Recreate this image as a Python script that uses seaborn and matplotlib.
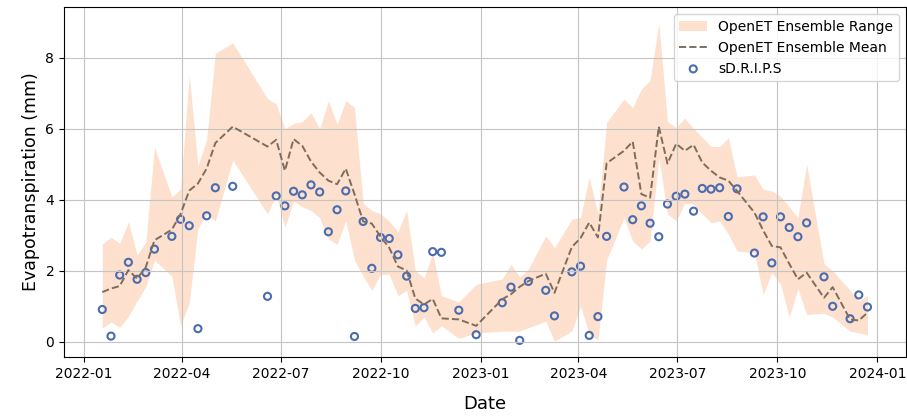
import matplotlib
matplotlib.use("Agg")
import matplotlib.pyplot as plt
import matplotlib.dates as mdates
import seaborn as sns
import pandas as pd

dates = [
    "2022-01-18", "2022-01-26", "2022-02-03", "2022-02-11", "2022-02-19", "2022-02-27", "2022-03-07",
    "2022-03-23", "2022-03-31", "2022-04-08", "2022-04-16", "2022-04-24", "2022-05-02", "2022-05-18",
    "2022-06-19", "2022-06-27", "2022-07-05", "2022-07-13", "2022-07-21", "2022-07-29", "2022-08-06",
    "2022-08-14", "2022-08-22", "2022-08-30", "2022-09-07", "2022-09-15", "2022-09-23", "2022-10-01",
    "2022-10-09", "2022-10-17", "2022-10-25", "2022-11-02", "2022-11-10", "2022-11-18", "2022-11-26",
    "2022-12-12", "2022-12-28", "2023-01-21", "2023-01-29", "2023-02-06", "2023-02-14", "2023-03-02",
    "2023-03-10", "2023-03-26", "2023-04-03", "2023-04-11", "2023-04-19", "2023-04-27", "2023-05-13",
    "2023-05-21", "2023-05-29", "2023-06-06", "2023-06-14", "2023-06-22", "2023-06-30", "2023-07-08",
    "2023-07-16", "2023-07-24", "2023-08-01", "2023-08-09", "2023-08-17", "2023-08-25", "2023-09-10",
    "2023-09-18", "2023-09-26", "2023-10-04", "2023-10-12", "2023-10-20", "2023-10-28", "2023-11-13",
    "2023-11-21", "2023-12-07", "2023-12-15", "2023-12-23",
]

sdrips = [
    0.91, 0.16, 1.88, 2.24, 1.76, 1.95, 2.61,
    2.97, 3.45, 3.27, 0.37, 3.55, 4.34, 4.38,
    1.28, 4.11, 3.83, 4.24, 4.14, 4.42, 4.22,
    3.10, 3.72, 4.25, 0.15, 3.39, 2.07, 2.94,
    2.91, 2.45, 1.85, 0.94, 0.96, 2.54, 2.52,
    0.89, 0.20, 1.10, 1.54, 0.04, 1.70, 1.45,
    0.73, 1.97, 2.13, 0.18, 0.71, 2.97, 4.36,
    3.44, 3.83, 3.34, 2.96, 3.88, 4.10, 4.16,
    3.68, 4.32, 4.30, 4.34, 3.53, 4.31, 2.50,
    3.52, 2.22, 3.52, 3.22, 2.96, 3.35, 1.83,
    1.00, 0.65, 1.32, 0.98,
]

ens_mean = [
    1.40, 1.50, 1.57, 2.02, 1.78, 2.10, 2.86,
    3.16, 3.60, 4.26, 4.46, 4.88, 5.60, 6.06,
    5.50, 5.69, 4.82, 5.71, 5.52, 5.08, 4.77,
    4.54, 4.44, 4.88, 4.16, 3.39, 3.33, 2.96,
    2.65, 2.12, 2.01, 1.22, 1.05, 1.21, 0.66,
    0.63, 0.45, 1.20, 1.34, 1.55, 1.71, 1.92,
    1.38, 2.67, 2.92, 3.36, 2.94, 5.03, 5.38,
    5.64, 4.16, 4.06, 6.06, 5.02, 5.58, 5.38,
    5.55, 5.05, 4.82, 4.63, 4.54, 4.25, 3.64,
    3.14, 2.70, 2.66, 2.20, 1.76, 1.95, 1.24,
    1.54, 0.63, 0.60, 0.82,
]

ens_upper = [
    2.75, 2.95, 2.77, 3.38, 2.45, 2.80, 5.48,
    4.08, 4.30, 7.50, 4.95, 5.70, 8.13, 8.42,
    6.85, 6.70, 6.00, 6.15, 6.20, 6.45, 6.00,
    6.79, 6.13, 6.79, 6.60, 3.90, 3.70, 3.60,
    3.40, 3.10, 3.70, 2.00, 1.80, 2.50, 1.30,
    1.12, 1.62, 1.77, 2.18, 1.83, 2.05, 2.98,
    2.65, 3.45, 3.50, 4.63, 3.60, 6.18, 6.84,
    6.60, 7.12, 7.36, 8.98, 6.20, 6.04, 6.30,
    6.00, 5.76, 5.50, 5.50, 5.75, 4.65, 4.70,
    4.30, 4.25, 4.10, 3.80, 3.50, 5.00, 2.20,
    2.00, 1.45, 1.15, 1.30,
]

ens_lower = [
    0.38, 0.56, 0.41, 0.72, 1.15, 1.55, 2.30,
    1.85, 0.45, 1.10, 3.20, 3.60, 3.40, 5.12,
    3.60, 4.15, 3.22, 3.97, 3.80, 3.70, 3.50,
    2.90, 2.75, 3.41, 2.30, 1.85, 1.45, 1.90,
    1.90, 1.30, 1.45, 0.44, 0.70, 0.25, 0.45,
    0.10, 0.25, 0.30, 0.30, 0.30, 0.40, 0.58,
    0.02, 0.30, 1.00, 0.22, 0.05, 2.30, 3.50,
    2.84, 2.61, 2.84, 5.19, 3.60, 3.41, 3.90,
    3.88, 3.60, 3.36, 3.40, 3.03, 2.56, 2.50,
    1.34, 1.95, 1.62, 0.70, 1.50, 0.77, 0.80,
    0.70, 0.30, 0.25, 0.20,
]

df = pd.DataFrame({
    "date": pd.to_datetime(dates),
    "sdrips": sdrips,
    "mean": ens_mean,
    "upper": ens_upper,
    "lower": ens_lower,
})

fig = plt.figure(figsize=(9.07, 4.19), dpi=100)
ax = fig.add_axes([0.0706, 0.148, 0.928, 0.835])

ax.fill_between(df["date"], df["lower"], df["upper"], color="#fde0cd",
                linewidth=0, label="OpenET Ensemble Range")
sns.lineplot(data=df, x="date", y="mean", ax=ax, color="#7f6d5c",
             linestyle="--", linewidth=1.4, label="OpenET Ensemble Mean")
sns.scatterplot(data=df, x="date", y="sdrips", ax=ax, marker="o", s=26,
                facecolor="none", edgecolor="#4a6cb0", linewidth=1.5,
                label="sD.R.I.P.S")

ax.grid(True, color="#c4c4c4", linewidth=0.8)
ax.xaxis.set_major_locator(mdates.MonthLocator(bymonth=[1, 4, 7, 10]))
ax.xaxis.set_major_formatter(mdates.DateFormatter("%Y-%m"))
ax.set_yticks([0, 2, 4, 6, 8])
ax.tick_params(labelsize=10)
ax.set_xlabel("Date", fontsize=13, labelpad=10)
ax.set_ylabel("Evapotranspiration (mm)", fontsize=12.5)
for s in ax.spines.values():
    s.set_color("black")
ax.legend(loc="upper right", fontsize=10)

fig.savefig("out.png", dpi=100)
